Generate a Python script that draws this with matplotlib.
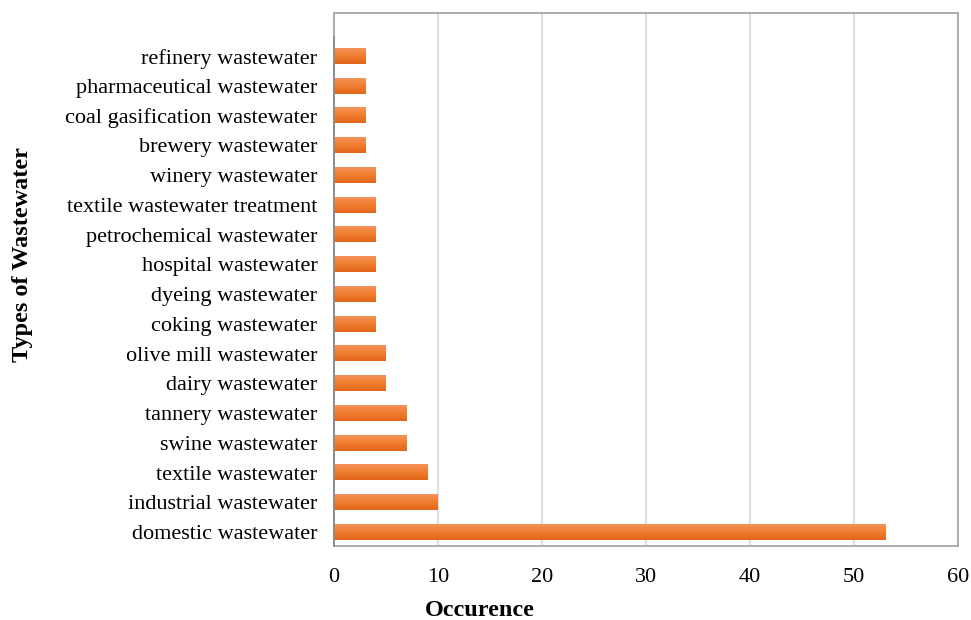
import numpy as np
import matplotlib.pyplot as plt
from matplotlib.colors import LinearSegmentedColormap

categories = [
    "domestic wastewater",
    "industrial wastewater",
    "textile wastewater",
    "swine wastewater",
    "tannery wastewater",
    "dairy wastewater",
    "olive mill wastewater",
    "coking wastewater",
    "dyeing wastewater",
    "hospital wastewater",
    "petrochemical wastewater",
    "textile wastewater treatment",
    "winery wastewater",
    "brewery wastewater",
    "coal gasification wastewater",
    "pharmaceutical wastewater",
    "refinery wastewater",
]
occurrence = [53, 10, 9, 7, 7, 5, 5, 4, 4, 4, 4, 4, 4, 3, 3, 3, 3]
xticks = [0, 10, 20, 30, 40, 50, 60]


def main():
    plt.rcParams["font.family"] = ["Liberation Serif", "DejaVu Serif"]
    fig = plt.figure(figsize=(9.71, 6.20), dpi=100)
    ax = fig.add_axes([0.344, 0.1194, 0.6426, 0.8596])

    y = np.arange(len(categories))
    bar_h = 0.52
    bars = ax.barh(y, occurrence, height=bar_h, color="#EF7B2C", zorder=2)

    # vertical gradient on each bar (lighter top, darker bottom)
    cmap = LinearSegmentedColormap.from_list(
        "orange", ["#E2661B", "#F07D2E", "#F4935A"]
    )
    grad = np.linspace(0, 1, 64).reshape(-1, 1)
    for b in bars:
        x0, y0 = b.get_x(), b.get_y()
        w, h = b.get_width(), b.get_height()
        ax.imshow(grad, cmap=cmap, aspect="auto", origin="lower",
                  extent=(x0, x0 + w, y0, y0 + h), zorder=3)

    ax.set_xlim(0, 60)
    ax.set_ylim(-0.47, len(categories) - 1 + 1.45)
    ax.set_xticks(xticks)
    ax.set_xticklabels([str(t) for t in xticks], fontsize=16)
    ax.set_yticks(y)
    ax.set_yticklabels(categories, fontsize=16)
    ax.tick_params(axis="y", length=0, pad=12)
    ax.tick_params(axis="x", length=0, pad=16)

    ax.grid(axis="x", color="#DCDFE8", lw=1.5, zorder=0)
    ax.set_axisbelow(True)
    for s in ax.spines.values():
        s.set_color("#A6A6A6")
        s.set_linewidth(1.3)

    # category axis line
    ax.plot([0, 0], [-0.47, len(categories) - 1 + 0.65], color="#8C8C8C",
            lw=1.3, zorder=4, clip_on=False)

    fig.text(0.494, 0.016, "Occurence", fontsize=17.5, fontweight="bold",
             ha="center", va="center")
    fig.text(0.023, 0.589, "Types of Wastewater", rotation=90, fontsize=17.5,
             fontweight="bold", ha="center", va="center")

    fig.savefig("out.png", dpi=100)


if __name__ == "__main__":
    main()
